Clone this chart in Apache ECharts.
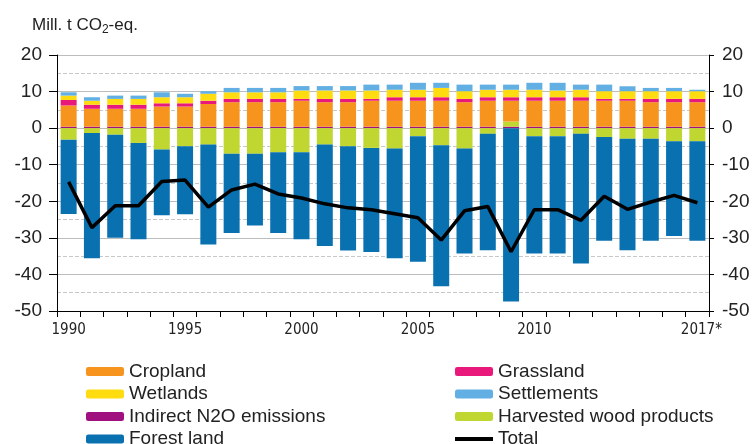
<!DOCTYPE html>
<html lang="en">
<head>
<meta charset="UTF-8">
<title>LULUCF sector emissions and removals</title>
<script src="https://cdn.jsdelivr.net/npm/echarts@6/dist/echarts.min.js"></script>
<style>
  html, body { margin: 0; padding: 0; background: #fff; }
  #chart { width: 756px; height: 444px; }
</style>
</head>
<body>
<div id="chart"></div>
<script>
// Mill. t CO2-eq.
const years = ['1990','1991','1992','1993','1994','1995','1996','1997','1998','1999',
  '2000','2001','2002','2003','2004','2005','2006','2007','2008','2009',
  '2010','2011','2012','2013','2014','2015','2016','2017*'];
const labelledYears = [0, 5, 10, 15, 20, 27];

const cropland = [5.8, 4.9, 4.9, 4.9, 5.5, 5.5, 6.2, 6.7, 6.7, 6.7, 7.1, 6.7, 6.7, 7.1,
  7.1, 7.1, 7.1, 6.7, 7.1, 5.7, 7.1, 7.1, 7.1, 7.1, 7.1, 6.7, 6.7, 6.7];
const grassland = [1.5, 1.1, 1.1, 1.1, 0.9, 0.9, 0.9, 0.9, 0.9, 0.9, 0.5, 0.9, 0.9, 0.5,
  0.95, 0.95, 0.95, 0.9, 0.95, 0.95, 0.95, 0.95, 0.95, 0.5, 0.5, 0.9, 0.9, 0.9];
const wetlands = [1.2, 1.1, 1.6, 1.6, 1.65, 1.65, 1.9, 1.8, 1.8, 1.8, 2.3, 2.3, 2.3, 2.3,
  2.05, 2.05, 2.55, 2.1, 2.05, 2.05, 2.05, 1.85, 2.05, 2.1, 2.1, 2.1, 2.1, 2.1];
const settlements = [0.9, 0.95, 0.9, 0.9, 1.35, 0.95, 0.7, 1.2, 1.2, 1.2, 1.2, 1.2, 1.2, 1.6,
  1.4, 1.9, 1.4, 1.8, 1.4, 1.4, 1.9, 2.1, 1.4, 1.8, 1.35, 0.9, 0.9, 0.4];
const indirectN2O = [0.4, 0.4, 0.4, 0.4, 0.4, 0.4, 0.4, 0.4, 0.4, 0.4, 0.4, 0.4, 0.4, 0.4,
  0.4, 0.4, 0.4, 0.4, 0.4, 0.4, 0.4, 0.4, 0.4, 0.4, 0.4, 0.4, 0.4, 0.4];
const harvestedWood = [-3.15, -1.35, -1.8, -4.05, -5.85, -4.95, -4.5, -7.0, -7.0, -6.6, -6.6, -4.5, -4.95, -5.4,
  -5.6, -2.2, -4.7, -5.6, -1.55, 1.4, -2.2, -2.2, -1.55, -2.45, -2.9, -2.9, -3.6, -3.6];
const forestLand = [-20.35, -34.2, -28.2, -26.3, -18.0, -18.6, -27.3, -21.7, -19.6, -22.1, -23.8, -27.7, -28.5, -28.5,
  -30.0, -34.3, -38.5, -28.7, -31.85, -47.4, -32.1, -32.1, -35.45, -28.35, -30.5, -27.9, -25.9, -27.2];
const total = [-14.7, -27.2, -21.2, -21.2, -14.6, -14.2, -21.6, -16.9, -15.3, -18.0, -19.1, -20.7, -21.8, -22.3,
  -23.4, -24.5, -30.6, -22.6, -21.4, -33.8, -22.3, -22.3, -25.2, -18.6, -22.2, -20.2, -18.4, -20.4];

// legend: two columns, four rows, in the reference's order
const legendLeft = ['Cropland', 'Wetlands', 'Indirect N2O emissions', 'Forest land'];
const legendRight = ['Grassland', 'Settlements', 'Harvested wood products', 'Total'];

const font = '"Liberation Sans", Arial, sans-serif';
const textColor = '#222';

function bar(name, data, color) {
  return {
    name: name,
    type: 'bar',
    stack: 'lulucf',
    data: data,
    barWidth: 16,
    itemStyle: { color: color }
  };
}

function yAxis(pos) {
  return {
    type: 'value',
    position: pos,
    min: -50,
    max: 20,
    interval: 10,
    axisLine: { show: true, lineStyle: { color: '#000', width: 1 } },
    axisTick: { show: true, length: pos === 'left' ? 8 : 5, lineStyle: { color: '#000' } },
    axisLabel: { margin: pos === 'left' ? 15 : 13, color: textColor, fontSize: 19, fontFamily: font },
    splitLine: { show: pos === 'left', lineStyle: { color: '#bdbdbd', width: 1 } },
    minorTick: { show: false, splitNumber: 2 },
    minorSplitLine: { show: pos === 'left', lineStyle: { color: '#c8c8c8', width: 1, type: [4, 2] } }
  };
}

// one legend component per entry, so the two columns never wrap
function legendItem(name, col, row) {
  const isLine = name === 'Total';
  return {
    left: col === 0 ? 81 : 450,
    top: 356 + row * 22.5,
    orient: 'horizontal',
    itemWidth: 38,
    itemHeight: isLine ? 4 : 9,
    selectedMode: false,
    data: [isLine ? { name: name, icon: 'rect', itemStyle: { color: '#000' } } : name],
    textStyle: { color: textColor, fontSize: 19, fontFamily: font, lineHeight: 21 }
  };
}

const legends = [];
legendLeft.forEach((n, i) => legends.push(legendItem(n, 0, i)));
legendRight.forEach((n, i) => legends.push(legendItem(n, 1, i)));

const chart = echarts.init(document.getElementById('chart'));

chart.setOption({
  animation: false,
  title: {
    text: 'Mill. t CO{sub|2}-eq.',
    left: 27,
    top: 10,
    textStyle: {
      color: textColor,
      fontSize: 17,
      fontWeight: 'normal',
      fontFamily: font,
      rich: {
        sub: { fontSize: 12, fontFamily: font, color: textColor, padding: [9, 0, 0, 0] }
      }
    }
  },
  legend: legends,
  grid: { left: 57, right: 47, top: 55, bottom: 133 },
  xAxis: {
    type: 'category',
    data: years,
    axisLine: { onZero: false, lineStyle: { color: '#000', width: 1 } },
    axisTick: { show: true, length: 6, interval: 0, lineStyle: { color: '#000' } },
    axisLabel: {
      interval: function (i) { return labelledYears.indexOf(i) >= 0; },
      margin: 12,
      color: textColor,
      fontSize: 15,
      fontFamily: '"Liberation Sans Narrow", "Arial Narrow", "DejaVu Sans Condensed", ' + font,
      formatter: function (v) { return v.indexOf('*') >= 0 ? '{p|}' + v : v; },
      rich: { p: { width: 8 } }
    },
    splitLine: { show: false }
  },
  yAxis: [yAxis('left'), yAxis('right')],
  series: [
    bar('Indirect N2O emissions', indirectN2O, '#a0117f'),
    bar('Harvested wood products', harvestedWood, '#bfd730'),
    bar('Cropland', cropland, '#f7941e'),
    bar('Grassland', grassland, '#e8197b'),
    bar('Wetlands', wetlands, '#ffdc0f'),
    bar('Settlements', settlements, '#62b0e3'),
    bar('Forest land', forestLand, '#0a71b1'),
    {
      name: 'Total',
      type: 'line',
      data: total,
      symbol: 'none',
      showSymbol: false,
      z: 10,
      itemStyle: { color: '#000' },
      lineStyle: { color: '#000', width: 3.5 }
    }
  ]
});
</script>
</body>
</html>
